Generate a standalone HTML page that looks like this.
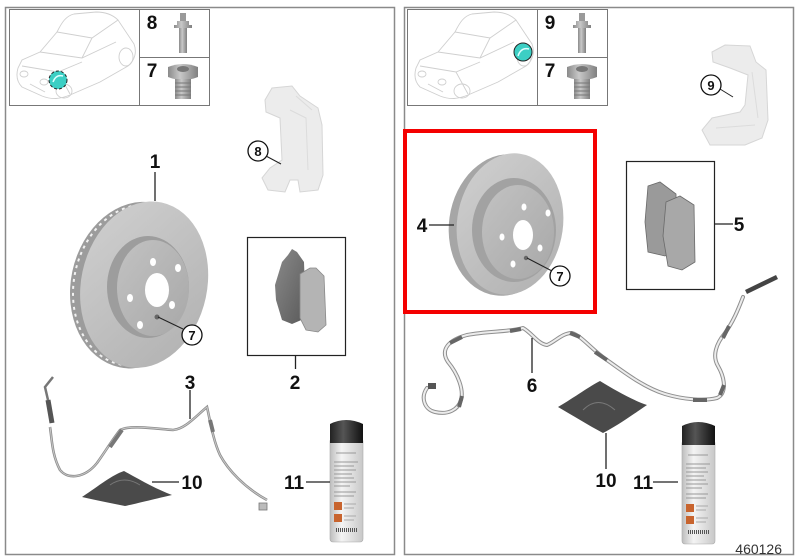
<!DOCTYPE html>
<html><head><meta charset="utf-8"><style>
html,body{margin:0;padding:0;background:#fff;}
svg{display:block;}
text{font-family:"Liberation Sans",Arial,sans-serif;}
.lb{font-weight:bold;font-size:19px;fill:#111;text-anchor:middle;}
.cl{font-weight:bold;font-size:13px;fill:#111;text-anchor:middle;}
</style></head><body>
<svg width="800" height="560" viewBox="0 0 800 560" xmlns="http://www.w3.org/2000/svg">
<defs>
<linearGradient id="disc" x1="0" y1="0" x2="1" y2="1"><stop offset="0" stop-color="#d0d0d0"/><stop offset="1" stop-color="#b0b0b0"/></linearGradient>
<linearGradient id="hub" x1="0" y1="0" x2="1" y2="1"><stop offset="0" stop-color="#c2c2c2"/><stop offset="1" stop-color="#a8a8a8"/></linearGradient>
<linearGradient id="can" x1="0" y1="0" x2="1" y2="0"><stop offset="0" stop-color="#bdbdbd"/><stop offset="0.35" stop-color="#f4f4f4"/><stop offset="1" stop-color="#c8c8c8"/></linearGradient>
<linearGradient id="cap" x1="0" y1="0" x2="1" y2="0"><stop offset="0" stop-color="#222"/><stop offset="0.4" stop-color="#555"/><stop offset="1" stop-color="#111"/></linearGradient>
<linearGradient id="bolt" x1="0" y1="0" x2="1" y2="0"><stop offset="0" stop-color="#8a8a8a"/><stop offset="0.4" stop-color="#c8c8c8"/><stop offset="1" stop-color="#808080"/></linearGradient>
<linearGradient id="pad" x1="0" y1="0" x2="1" y2="1"><stop offset="0" stop-color="#8a8a8a"/><stop offset="1" stop-color="#5a5a5a"/></linearGradient>
<g id="car" fill="none" stroke="#cfcfcf" stroke-width="0.9">
<path d="M18,68 C16,75 17,82 22,87 L42,96 C52,100 60,99 70,95 L100,82 L128,66 C135,60 137,52 134,44 L118,20 C112,14 104,12 96,12 L74,14 C66,16 62,22 57,32 L40,52 L22,60 Z"/>
<path d="M40,52 L82,58 L116,42 M57,32 L92,38 L118,20 M82,58 L92,38"/>
<path d="M22,66 L58,72 L82,62 M58,72 L70,94"/>
<ellipse cx="64" cy="91" rx="8" ry="7"/>
<ellipse cx="126" cy="57" rx="7" ry="9"/>
<ellipse cx="24" cy="74" rx="4" ry="3"/><ellipse cx="44" cy="82" rx="4" ry="3"/>
<path d="M30,84 L45,92"/>
</g>
<g id="bolt8">
<rect x="-3" y="0" width="6" height="8" fill="#9a9a9a"/>
<path d="M-6,8 h12 v4 h3 v3 h-18 v-3 h3 Z" fill="url(#bolt)"/>
<rect x="-4" y="15" width="8" height="25" fill="url(#bolt)"/>
</g>
<g id="bolt7">
<path d="M-15,2 Q0,-4 15,2 L15,12 Q0,18 -15,12 Z" fill="url(#bolt)"/>
<ellipse cx="0" cy="4" rx="6" ry="3" fill="#777"/>
<rect x="-8" y="14" width="16" height="20" fill="url(#bolt)"/>
<path d="M-8,18 h16 M-8,22 h16 M-8,26 h16 M-8,30 h16" stroke="#777" stroke-width="1"/>
</g>
<g id="spray">
<rect x="0" y="20" width="33" height="104" rx="3" fill="url(#can)" stroke="#aaa" stroke-width="0.6"/>
<path d="M0,25 L0,6 Q16,-2 33,6 L33,25 Z" fill="url(#cap)"/>
<path d="M6,35 h20 M4,44 h24 M4,48 h20 M4,52 h22 M4,56 h18 M4,60 h20 M4,64 h22 M4,68 h16 M4,74 h22 M4,78 h20" stroke="#999" stroke-width="1"/>
<rect x="4" y="84" width="8" height="8" fill="#c8642e"/>
<rect x="4" y="96" width="8" height="8" fill="#c8642e"/>
<path d="M14,86 h12 M14,90 h10 M14,98 h12 M14,102 h10" stroke="#aaa" stroke-width="1"/>
<path d="M6,112 h22" stroke="#555" stroke-width="4" stroke-dasharray="1 1"/>
</g>
</defs>

<!-- panels -->
<rect x="5.5" y="7.5" width="389" height="547" fill="none" stroke="#8a8a8a" stroke-width="1.5"/>
<rect x="404.5" y="7.5" width="389" height="547" fill="none" stroke="#8a8a8a" stroke-width="1.5"/>

<!-- left top box -->
<rect x="9.5" y="9.5" width="200" height="96" fill="none" stroke="#777" stroke-width="1"/>
<line x1="139.5" y1="9.5" x2="139.5" y2="105.5" stroke="#777"/>
<line x1="139.5" y1="57.5" x2="209.5" y2="57.5" stroke="#777"/>
<use href="#car" x="0" y="0"/>
<circle cx="58" cy="80" r="9" fill="#3ccfc4" stroke="#222" stroke-width="1" stroke-dasharray="3 2"/>
<path d="M53,82 Q56,74 63,76" stroke="#dff" stroke-width="1.5" fill="none"/>
<text class="lb" x="152" y="29">8</text>
<text class="lb" x="152" y="77">7</text>
<use href="#bolt8" x="183" y="13"/>
<use href="#bolt7" x="183" y="65"/>

<!-- right top box -->
<rect x="407.5" y="9.5" width="200" height="96" fill="none" stroke="#777" stroke-width="1"/>
<line x1="537.5" y1="9.5" x2="537.5" y2="105.5" stroke="#777"/>
<line x1="537.5" y1="57.5" x2="607.5" y2="57.5" stroke="#777"/>
<use href="#car" x="398" y="0"/>
<circle cx="523" cy="52" r="9" fill="#3ccfc4" stroke="#222" stroke-width="1"/>
<path d="M518,56 Q521,47 529,49" stroke="#dff" stroke-width="1.5" fill="none"/>
<text class="lb" x="550" y="29">9</text>
<text class="lb" x="550" y="77">7</text>
<use href="#bolt8" x="582" y="13"/>
<use href="#bolt7" x="582" y="65"/>

<!-- caliper carrier 8 (ghost) -->
<path d="M265,100 L272,88 L292,86 L300,96 L318,108 L322,125 L323,175 L318,190 L300,192 L298,180 L290,180 L285,192 L268,190 L262,178 L270,168 L282,160 L280,118 L266,112 Z" fill="#ececec" stroke="#d6d6d6" stroke-width="1"/>
<path d="M290,110 L306,118 L308,170 M296,96 L312,110" stroke="#dcdcdc" fill="none"/>
<line x1="266" y1="156" x2="281" y2="164" stroke="#222" stroke-width="1"/>
<circle cx="258" cy="151" r="10" fill="#fff" stroke="#111" stroke-width="1.3"/>
<text class="cl" x="258" y="156">8</text>

<!-- caliper carrier 9 (ghost) -->
<path d="M712,52 L725,45 L750,46 L756,62 L766,70 L768,120 L762,138 L745,145 L710,145 L702,130 L712,118 L740,112 L745,105 L748,75 L730,68 L713,62 Z" fill="#ececec" stroke="#d6d6d6" stroke-width="1"/>
<path d="M716,128 L755,125 M752,72 L758,118" stroke="#dcdcdc" fill="none"/>
<line x1="720" y1="89" x2="733" y2="97" stroke="#222" stroke-width="1"/>
<circle cx="711" cy="85" r="10" fill="#fff" stroke="#111" stroke-width="1.3"/>
<text class="cl" x="711" y="90">9</text>

<!-- left disc 1 -->
<line x1="155" y1="172" x2="155" y2="201" stroke="#222" stroke-width="1.3"/>
<text class="lb" x="155" y="168">1</text>
<g transform="rotate(12 141 285)">
<ellipse cx="137" cy="286" rx="66" ry="84" fill="#9c9c9c"/>
<ellipse cx="137" cy="286" rx="63" ry="81" fill="none" stroke="#f2f2f2" stroke-width="2" stroke-dasharray="3 4"/>
<ellipse cx="144" cy="284" rx="63" ry="84" fill="url(#disc)"/>
</g>
<ellipse cx="148" cy="287" rx="41" ry="51" fill="#9d9d9d"/>
<ellipse cx="153" cy="288" rx="36" ry="48" fill="url(#hub)"/>
<ellipse cx="157" cy="290" rx="12" ry="17" fill="#fff"/>
<ellipse cx="153" cy="262" rx="3" ry="4" fill="#fff"/>
<ellipse cx="178" cy="268" rx="3" ry="4" fill="#fff"/>
<ellipse cx="130" cy="298" rx="3" ry="4" fill="#fff"/>
<ellipse cx="172" cy="305" rx="3" ry="4" fill="#fff"/>
<ellipse cx="140" cy="325" rx="3" ry="4" fill="#fff"/>
<circle cx="157" cy="317" r="2.5" fill="#666"/>
<line x1="158" y1="317" x2="183" y2="329" stroke="#222" stroke-width="1"/>
<circle cx="192" cy="335" r="10" fill="#fff" stroke="#111" stroke-width="1.3"/>
<text class="cl" x="192" y="340">7</text>

<!-- left pads box 2 -->
<rect x="247.5" y="237.5" width="98" height="118" fill="none" stroke="#222" stroke-width="1.2"/>
<path d="M288,255 L292,249 L297,252 L304,262 L306,318 L292,324 L282,320 L276,300 L275,285 L282,262 Z" fill="url(#pad)"/>
<path d="M300,274 L310,268 L316,268 L324,276 L326,325 L318,332 L306,330 L300,318 Z" fill="#b4b4b4" stroke="#888" stroke-width="0.8"/>
<line x1="295.5" y1="356" x2="295.5" y2="369" stroke="#222" stroke-width="1.3"/>
<text class="lb" x="295" y="389">2</text>

<!-- left sensor 3 -->
<path d="M50,427 C52,440 52,455 60,470 C68,480 85,478 97,463 C105,452 112,440 120,430 C130,425 150,428 173,430 C185,429 195,417 207,407 C210,420 213,440 220,455 C228,470 245,488 267,500" fill="none" stroke="#8c8c8c" stroke-width="2.6"/>
<path d="M50,427 C52,440 52,455 60,470 C68,480 85,478 97,463 C105,452 112,440 120,430 C130,425 150,428 173,430 C185,429 195,417 207,407 C210,420 213,440 220,455 C228,470 245,488 267,500" fill="none" stroke="#c8c8c8" stroke-width="1"/>
<path d="M53,377 L45,387 L48,400" fill="none" stroke="#777" stroke-width="2.5"/>
<path d="M48,400 L52,423" stroke="#555" stroke-width="5"/>
<path d="M110,447 L122,430" stroke="#777" stroke-width="4"/>
<path d="M210,420 L213,432" stroke="#777" stroke-width="4"/>
<rect x="259" y="503" width="8" height="7" fill="#bbb" stroke="#777" stroke-width="0.8"/>
<line x1="190" y1="390" x2="190" y2="419" stroke="#222" stroke-width="1.3"/>
<text class="lb" x="190" y="389">3</text>

<!-- left wedge 10 -->
<path d="M82,497 C100,485 112,475 124,471 C140,480 158,490 172,495 C150,500 135,504 125,506 C110,503 95,500 82,497 Z" fill="#4a4a4a"/>
<path d="M110,485 Q124,475 140,485" stroke="#777" fill="none"/>
<line x1="152" y1="482" x2="179" y2="482" stroke="#222" stroke-width="1.3"/>
<text class="lb" x="192" y="489">10</text>

<!-- left spray 11 -->
<use href="#spray" x="330" y="418"/>
<line x1="306" y1="482" x2="330" y2="482" stroke="#222" stroke-width="1.3"/>
<text class="lb" x="294" y="489">11</text>

<!-- right disc 4 (red box) -->
<ellipse cx="505" cy="225" rx="56" ry="71" fill="#a6a6a6" transform="rotate(8 505 225)"/>
<ellipse cx="510" cy="224" rx="53" ry="71" fill="url(#disc)" transform="rotate(8 510 224)"/>
<ellipse cx="514" cy="230" rx="42" ry="52" fill="#a2a2a2"/>
<ellipse cx="518" cy="232" rx="36" ry="47" fill="url(#hub)"/>
<ellipse cx="523" cy="235" rx="10" ry="15" fill="#fff"/>
<ellipse cx="524" cy="207" rx="2.5" ry="3.5" fill="#fff"/>
<ellipse cx="548" cy="213" rx="2.5" ry="3.5" fill="#fff"/>
<ellipse cx="502" cy="237" rx="2.5" ry="3.5" fill="#fff"/>
<ellipse cx="540" cy="248" rx="2.5" ry="3.5" fill="#fff"/>
<ellipse cx="513" cy="264" rx="2.5" ry="3.5" fill="#fff"/>
<circle cx="526" cy="258" r="2.2" fill="#666"/>
<line x1="527" y1="258" x2="552" y2="271" stroke="#222" stroke-width="1"/>
<circle cx="560" cy="276" r="10" fill="#fff" stroke="#111" stroke-width="1.3"/>
<text class="cl" x="560" y="281">7</text>
<line x1="429" y1="225" x2="454" y2="225" stroke="#222" stroke-width="1.3"/>
<text class="lb" x="422" y="232">4</text>
<rect x="405" y="131" width="190" height="181" fill="none" stroke="#f40000" stroke-width="4"/>

<!-- right pads box 5 -->
<rect x="626.5" y="161.5" width="88" height="128" fill="none" stroke="#222" stroke-width="1.2"/>
<path d="M648,186 L660,182 L676,194 L677,250 L665,256 L648,252 L645,222 Z" fill="#9a9a9a" stroke="#6a6a6a" stroke-width="0.8"/>
<path d="M666,202 L680,196 L694,205 L695,262 L682,270 L668,266 L663,236 Z" fill="#a8a8a8" stroke="#6a6a6a" stroke-width="0.8"/>
<line x1="715" y1="224" x2="733" y2="224" stroke="#222" stroke-width="1.3"/>
<text class="lb" x="739" y="231">5</text>

<!-- right sensor 6 -->
<g fill="none" stroke-linecap="round" stroke-linejoin="round">
<path d="M427,388 C420,398 425,410 435,412 C448,415 458,410 461,400 C464,390 458,374 448,362 C440,350 448,340 467,335 C487,331 510,332 523,328 C532,333 538,344 547,345 C555,342 562,333 572,333 C582,336 592,350 607,360 C625,373 645,388 665,394 C685,400 705,401 717,398 C726,394 726,380 718,366 C712,356 716,344 725,333 C733,322 738,310 743,297" stroke="#8f8f8f" stroke-width="4"/>
<path d="M427,388 C420,398 425,410 435,412 C448,415 458,410 461,400 C464,390 458,374 448,362 C440,350 448,340 467,335 C487,331 510,332 523,328 C532,333 538,344 547,345 C555,342 562,333 572,333 C582,336 592,350 607,360 C625,373 645,388 665,394 C685,400 705,401 717,398 C726,394 726,380 718,366 C712,356 716,344 725,333 C733,322 738,310 743,297" stroke="#ececec" stroke-width="2"/>
</g>
<path d="M450,343 L462,337" stroke="#666" stroke-width="4"/>
<path d="M510,331 L521,329" stroke="#666" stroke-width="4"/>
<path d="M570,333 L580,337" stroke="#666" stroke-width="4"/>
<path d="M595,352 L607,360" stroke="#666" stroke-width="4"/>
<path d="M693,400 L707,400" stroke="#666" stroke-width="4"/>
<path d="M720,395 L724,385" stroke="#666" stroke-width="4"/>
<path d="M459,407 L462,396" stroke="#666" stroke-width="4"/>
<path d="M723,338 L729,326" stroke="#666" stroke-width="4"/>
<path d="M746,292 L777,277" stroke="#444" stroke-width="4.5"/>
<rect x="428" y="383" width="8" height="6" fill="#555"/>
<line x1="532" y1="338" x2="532" y2="373" stroke="#222" stroke-width="1.3"/>
<text class="lb" x="532" y="392">6</text>

<!-- right wedge 10 -->
<path d="M558,407 C575,397 590,386 600,381 C615,390 632,400 647,405 C628,418 615,427 603,433 C588,425 572,415 558,407 Z" fill="#4a4a4a"/>
<path d="M583,410 Q598,395 615,410" stroke="#777" fill="none"/>
<line x1="606" y1="433" x2="606" y2="469" stroke="#222" stroke-width="1.3"/>
<text class="lb" x="606" y="487">10</text>

<!-- right spray 11 -->
<use href="#spray" x="682" y="420"/>
<line x1="653" y1="482" x2="678" y2="482" stroke="#222" stroke-width="1.3"/>
<text class="lb" x="643" y="489">11</text>

<text x="782" y="554" font-size="14" fill="#333" text-anchor="end">460126</text>
</svg>
</body></html>
